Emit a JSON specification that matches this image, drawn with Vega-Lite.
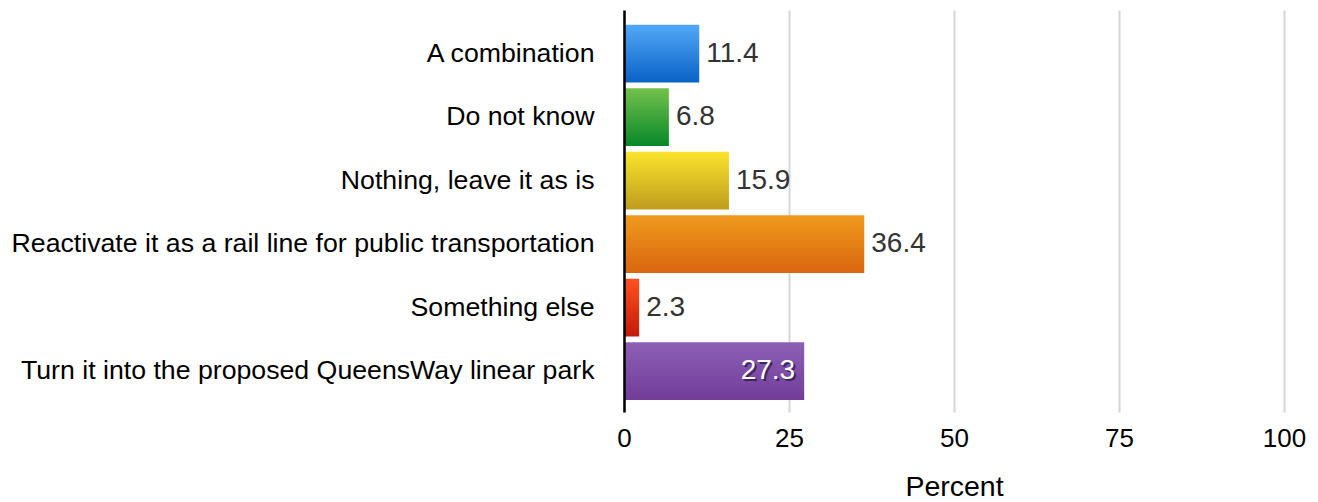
{
  "$schema": "https://vega.github.io/schema/vega-lite/v6.json",
  "width": 660,
  "height": 402,
  "autosize": {"type": "none"},
  "padding": {"left": 624, "top": 10, "right": 34, "bottom": 90},
  "background": "white",
  "config": {"view": {"stroke": null}, "font": "Liberation Sans"},
  "data": {"values": [
    {"answer": "A combination", "percent": 11.4},
    {"answer": "Do not know", "percent": 6.8},
    {"answer": "Nothing, leave it as is", "percent": 15.9},
    {"answer": "Reactivate it as a rail line for public transportation", "percent": 36.4},
    {"answer": "Something else", "percent": 2.3},
    {"answer": "Turn it into the proposed QueensWay linear park", "percent": 27.3}
  ]},
  "encoding": {
    "y": {
      "field": "answer", "type": "nominal",
      "scale": {
        "domain": ["A combination", "Do not know", "Nothing, leave it as is", "Reactivate it as a rail line for public transportation", "Something else", "Turn it into the proposed QueensWay linear park"],
        "paddingInner": 0.09, "paddingOuter": 0.21, "align": 0.55
      },
      "axis": {
        "title": null, "domain": true, "domainColor": "#000000", "domainWidth": 2.5,
        "ticks": false, "grid": false, "labelFontSize": 26.7, "labelColor": "#000000",
        "labelPadding": 30, "labelLimit": 800, "zindex": 2
      }
    },
    "x": {
      "field": "percent", "type": "quantitative",
      "scale": {"domain": [0, 100], "nice": false},
      "axis": {
        "title": "Percent", "titleFontSize": 28.5, "titleFontWeight": "normal", "titleColor": "#000000",
        "titlePadding": 21, "domain": false, "ticks": false, "labelFontSize": 26,
        "labelColor": "#000000", "labelPadding": 13, "labelFlush": false, "values": [0, 25, 50, 75, 100],
        "grid": true, "gridColor": "#d6d6d6", "gridWidth": 2
      }
    }
  },
  "layer": [
    {"transform": [{"filter": "datum.answer === 'A combination'"}],
     "mark": {"type": "bar", "color": {"gradient": "linear", "x1": 0, "y1": 0, "x2": 0, "y2": 1, "stops": [{"offset": 0, "color": "#52A8F7"}, {"offset": 1, "color": "#0962C6"}]}}},
    {"transform": [{"filter": "datum.answer === 'Do not know'"}],
     "mark": {"type": "bar", "color": {"gradient": "linear", "x1": 0, "y1": 0, "x2": 0, "y2": 1, "stops": [{"offset": 0, "color": "#74C14C"}, {"offset": 1, "color": "#068829"}]}}},
    {"transform": [{"filter": "datum.answer === 'Nothing, leave it as is'"}],
     "mark": {"type": "bar", "color": {"gradient": "linear", "x1": 0, "y1": 0, "x2": 0, "y2": 1, "stops": [{"offset": 0, "color": "#FBE42B"}, {"offset": 1, "color": "#BF9C1E"}]}}},
    {"transform": [{"filter": "datum.answer === 'Reactivate it as a rail line for public transportation'"}],
     "mark": {"type": "bar", "color": {"gradient": "linear", "x1": 0, "y1": 0, "x2": 0, "y2": 1, "stops": [{"offset": 0, "color": "#F09A1E"}, {"offset": 1, "color": "#D9660F"}]}}},
    {"transform": [{"filter": "datum.answer === 'Something else'"}],
     "mark": {"type": "bar", "color": {"gradient": "linear", "x1": 0, "y1": 0, "x2": 0, "y2": 1, "stops": [{"offset": 0, "color": "#FF5220"}, {"offset": 1, "color": "#C21A08"}]}}},
    {"transform": [{"filter": "datum.answer === 'Turn it into the proposed QueensWay linear park'"}],
     "mark": {"type": "bar", "color": {"gradient": "linear", "x1": 0, "y1": 0, "x2": 0, "y2": 1, "stops": [{"offset": 0, "color": "#8D60B6"}, {"offset": 1, "color": "#713C98"}]}}},
    {"transform": [{"filter": "datum.answer !== 'Turn it into the proposed QueensWay linear park'"}],
     "mark": {"type": "text", "align": "left", "baseline": "middle", "dx": 7, "fontSize": 28, "color": "#333333"},
     "encoding": {"text": {"field": "percent", "type": "quantitative", "format": ".1f"}}},
    {"transform": [{"filter": "datum.answer === 'Turn it into the proposed QueensWay linear park'"}],
     "mark": {"type": "text", "align": "right", "baseline": "middle", "dx": -7, "dy": 2, "fontSize": 28, "color": "#2a1840", "opacity": 0.75},
     "encoding": {"text": {"field": "percent", "type": "quantitative", "format": ".1f"}}},
    {"transform": [{"filter": "datum.answer === 'Turn it into the proposed QueensWay linear park'"}],
     "mark": {"type": "text", "align": "right", "baseline": "middle", "dx": -9, "dy": 0, "fontSize": 28, "color": "#ffffff"},
     "encoding": {"text": {"field": "percent", "type": "quantitative", "format": ".1f"}}}
  ]
}
